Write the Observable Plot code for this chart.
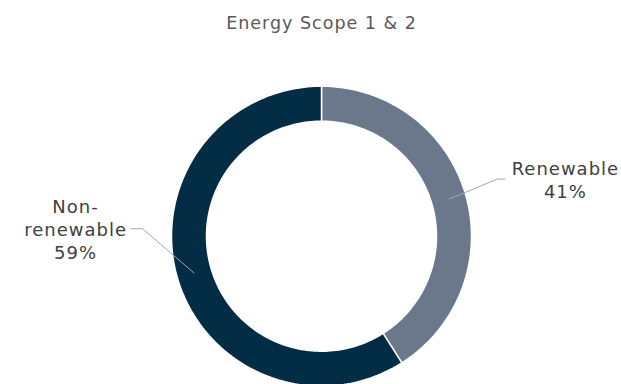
<!DOCTYPE html>
<html><head><meta charset="utf-8">
<script src="https://cdn.jsdelivr.net/npm/d3@7"></script>
<script src="https://cdn.jsdelivr.net/npm/@observablehq/plot@0.6"></script>
<style>
body{margin:0;background:#fff;}
#chart svg text{font-family:"DejaVu Sans",sans-serif;letter-spacing:1px;}
</style>
</head><body><div id="chart"></div>
<script>
// ---- data ----
const title = "Energy Scope 1 & 2";
const categories = ["Renewable", "Non-renewable"];
const values = [41, 59];
const labels = ["Renewable\n41%", "Non-\nrenewable\n59%"];

// ---- style / layout ----
const colors = ["#6b778a", "#032d45"];
const W = 621, H = 384, CX = 321, CY = 235.7, R = 150;
const R_IN = 115 / R;           // inner radius in data units (outer = 1)
const R_MID = (1 + R_IN) / 2;
const connector = [             // elbow radius & angle shift (deg), horizontal tail (px), text offset (px)
  {r: 1.233, dA: -1.8, tail: 8, dx: 60},
  {r: 1.194, dA: 18.6, tail: 12, dx: -55}
];

const arcs = d3.pie().sort(null)(values);
const ringPts = [];
arcs.forEach((p, i) => {
  const n = 160, a0 = p.startAngle, a1 = p.endAngle;
  for (let k = 0; k <= n; k++) { const a = a0 + (a1 - a0) * k / n; ringPts.push({cat: categories[i], x: Math.sin(a), y: Math.cos(a)}); }
  for (let k = n; k >= 0; k--) { const a = a0 + (a1 - a0) * k / n; ringPts.push({cat: categories[i], x: R_IN * Math.sin(a), y: R_IN * Math.cos(a)}); }
  ringPts.push({cat: categories[i], x: Math.sin(a0), y: Math.cos(a0)});
});

const leaderPts = [], labelPts = [];
arcs.forEach((p, i) => {
  const mid = (p.startAngle + p.endAngle) / 2;
  const c = connector[i];
  const ea = mid + c.dA * Math.PI / 180;
  const side = Math.sign(c.dx);
  const ex = c.r * Math.sin(ea), ey = c.r * Math.cos(ea);
  leaderPts.push({cat: categories[i], x: R_MID * Math.sin(mid), y: R_MID * Math.cos(mid)});
  leaderPts.push({cat: categories[i], x: ex, y: ey});
  leaderPts.push({cat: categories[i], x: ex + side * c.tail / R, y: ey});
  labelPts.push({text: labels[i], x: ex + side * c.tail / R, y: ey, dx: c.dx});
});

const chart = Plot.plot({
  width: W, height: H,
  margin: 0,
  x: {domain: [-1, 1], range: [CX - R, CX + R], axis: null},
  y: {domain: [-1, 1], range: [CY + R, CY - R], axis: null},
  color: {domain: categories, range: colors},
  marks: [
    Plot.line(ringPts, {x: "x", y: "y", z: "cat", fill: "cat", stroke: "#fff", strokeWidth: 1.5, curve: "linear"}),
    Plot.line(leaderPts, {x: "x", y: "y", z: "cat", stroke: "#a6a6a6", strokeWidth: 1, strokeLinecap: "butt", strokeLinejoin: "miter"}),
    ...labelPts.map(l => Plot.text([l], {x: "x", y: "y", text: "text", dx: l.dx, textAnchor: "middle", lineAnchor: "middle", lineHeight: 1.28, fontSize: 18, fill: "#404040"})),
    Plot.text([title], {x: () => 0, frameAnchor: "top", dy: 22.5, text: d => d, textAnchor: "middle", lineAnchor: "middle", fontSize: 17.5, fill: "#595959"})
  ]
});
document.getElementById("chart").appendChild(chart);
</script>
</body></html>
